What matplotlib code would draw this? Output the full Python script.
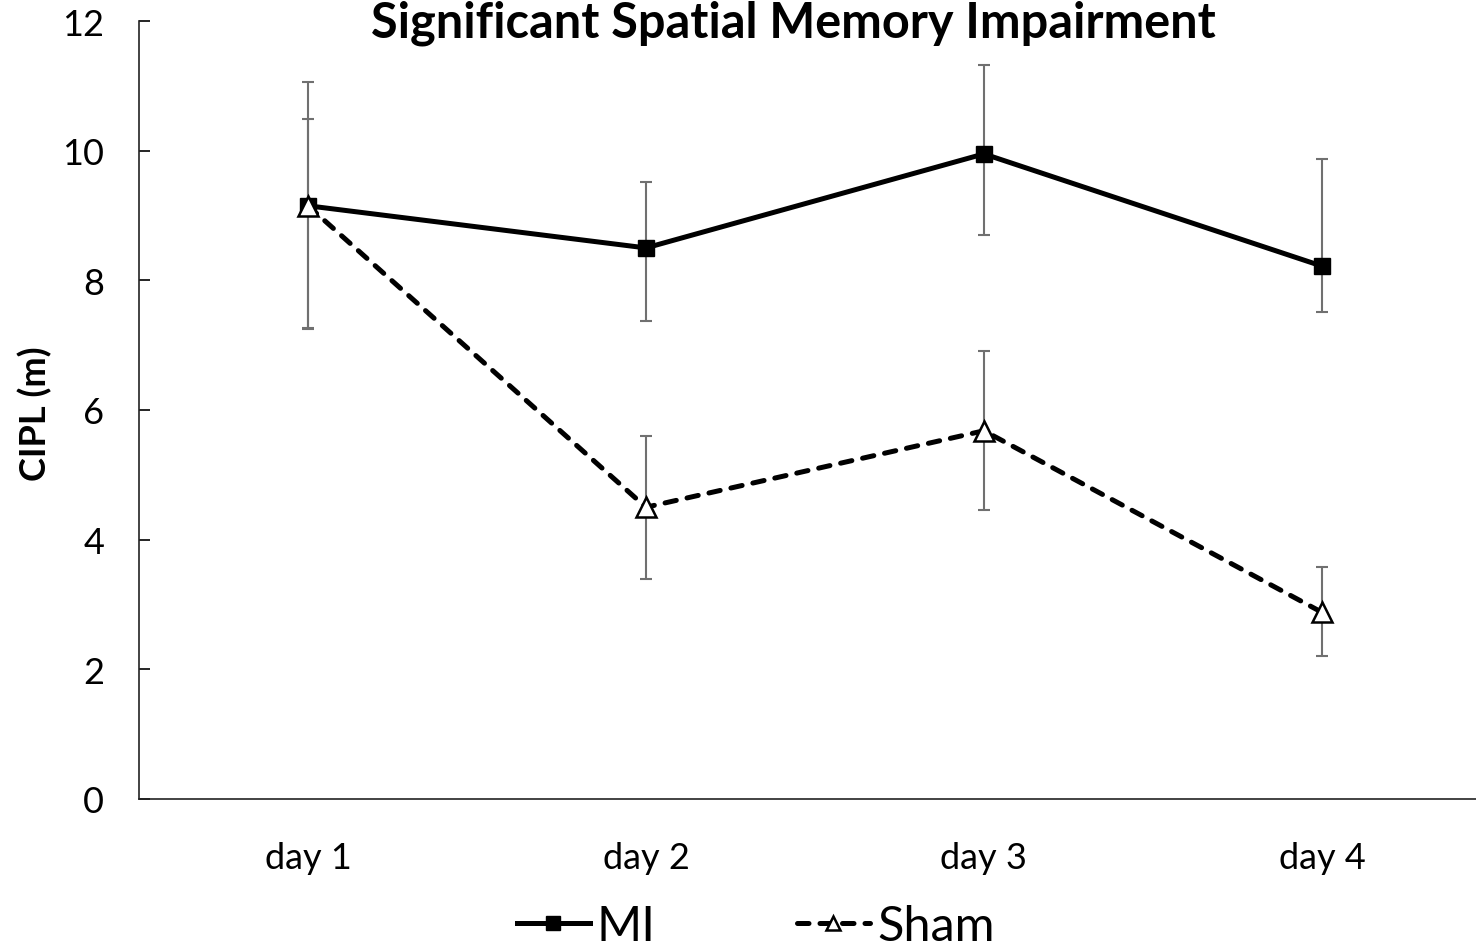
import matplotlib
matplotlib.use("Agg")
import matplotlib.pyplot as plt
import numpy as np

days = ["day 1", "day 2", "day 3", "day 4"]
mi_vals = [9.15, 8.50, 9.95, 8.22]
mi_err_up = [1.91, 1.02, 1.37, 1.65]
mi_err_dn = [1.90, 1.13, 1.25, 0.71]
sham_vals = [9.15, 4.50, 5.68, 2.88]
sham_err_up = [1.34, 1.10, 1.23, 0.70]
sham_err_dn = [1.88, 1.11, 1.22, 0.67]
yticks = [0, 2, 4, 6, 8, 10, 12]

plt.rcParams['font.family'] = ['Lato', 'DejaVu Sans']

fig = plt.figure(figsize=(14.76, 9.53), dpi=100)
ax = fig.add_axes([139/1476, 153/953, 1 - 139/1476, 778/953])
x = np.arange(len(days))

err_col = '#707070'
ax.errorbar(x, mi_vals, yerr=[mi_err_dn, mi_err_up], fmt='none', ecolor=err_col,
            elinewidth=1.5, capsize=4.3, capthick=1.5, zorder=2)
ax.errorbar(x, sham_vals, yerr=[sham_err_dn, sham_err_up], fmt='none', ecolor=err_col,
            elinewidth=1.5, capsize=4.3, capthick=1.5, zorder=2)
mi_line, = ax.plot(x, mi_vals, color='black', lw=3.6, marker='s', markersize=12,
                   markerfacecolor='black', markeredgecolor='black', zorder=3, label='MI')
sham_line, = ax.plot(x, sham_vals, color='black', lw=3.6, ls=(0, (2.3, 2.2)),
                     dash_capstyle='round', marker='^',
                     markersize=14, markerfacecolor='white', markeredgecolor='black',
                     markeredgewidth=1.8, zorder=4, label='Sham')

ax.set_xlim(-0.5, 3.456)
ax.set_ylim(0, 12)
ax.set_yticks(yticks)
ax.set_yticklabels([str(v) for v in yticks], fontsize=26)
ax.set_xticks(x)
ax.set_xticklabels(days, fontsize=26)
ax.yaxis.set_tick_params(direction='in', length=8, width=1.2, pad=25)
ax.xaxis.set_tick_params(length=0, pad=30)
for s in ['top', 'right']:
    ax.spines[s].set_visible(False)
for s in ['left', 'bottom']:
    ax.spines[s].set_linewidth(1.2)
    ax.spines[s].set_color('#222222')

ax.set_ylabel('CIPL (m)', fontsize=26, fontweight='bold')
ax.yaxis.set_label_coords(-0.065, 0.497)
fig.text(793/1476, 1 - 37/953, 'Significant Spatial Memory Impairment', fontsize=35,
         fontweight='bold', ha='center', va='baseline')

leg = fig.legend(handles=[mi_line, sham_line], loc='center', bbox_to_anchor=(0.512, 1 - 927/953),
                 ncol=2, frameon=False, fontsize=35, handlelength=1.5, columnspacing=2.9,
                 handletextpad=0.15, borderpad=0.2)
for h in leg.legend_handles:
    h.set_markersize(10)

fig.savefig('out.png', dpi=100)
